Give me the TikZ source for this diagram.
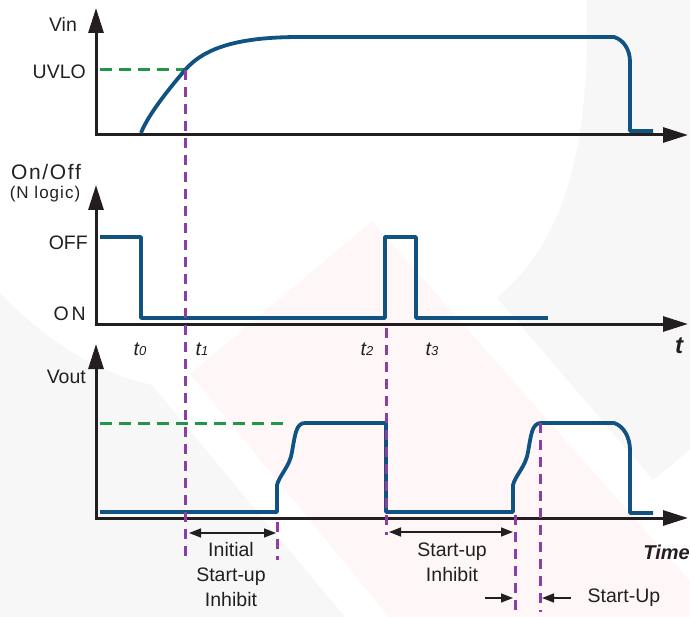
\documentclass[tikz,border=0pt]{standalone}
\usepackage{fontspec}
\setmainfont{Liberation Sans}
\usetikzlibrary{arrows.meta, positioning}

\definecolor{sigblue}{RGB}{16,82,130}
\definecolor{uvgreen}{RGB}{34,150,72}
\definecolor{mkpurple}{RGB}{142,62,160}
\definecolor{inkgray}{RGB}{35,31,32}
\newcommand{\tidx}[1]{\textit{t}{\fontsize{13}{13}\selectfont\textit{#1}}}

\begin{document}
\begin{tikzpicture}[x=1pt, y=-1pt,
  axis/.style={line width=3pt, draw=inkgray, -{Triangle[length=25pt, width=15pt]}},
  signal/.style={line width=3.8pt, draw=sigblue, line join=round},
  marker/.style={line width=3pt, draw=mkpurple, dash pattern=on 10pt off 7pt},
  level/.style={line width=3pt, draw=uvgreen, dash pattern=on 12pt off 7pt},
  dim/.style={line width=1.5pt, draw=inkgray, {Triangle[length=12pt, width=9pt]}-{Triangle[length=12pt, width=9pt]}},
  onedim/.style={line width=1.5pt, draw=inkgray, -{Triangle[length=12pt, width=9pt]}},
  lbl/.style={font=\fontsize{19.5}{25}\selectfont, text=inkgray, inner sep=0pt},
  spaced/.style={lbl, font=\fontsize{21}{25}\selectfont\addfontfeature{LetterSpace=8}},
  small/.style={lbl, font=\fontsize{17}{20}\selectfont\addfontfeature{LetterSpace=6}},
  tlbl/.style={lbl, font=\fontsize{19.5}{25}\selectfont\itshape},
  boldit/.style={lbl, font=\fontsize{20}{24}\selectfont\bfseries\itshape}
]
\useasboundingbox (0,0) rectangle (690,617);

% faint background
\fill[red!3] (372,221) -- (190,374) -- (389,617) -- (690,617) -- (690,581) -- cycle;
\fill[gray!6] (587,0) .. controls (590,150) and (565,240) .. (497,298) -- (653,480)
  -- (690,450) -- (690,0) -- cycle;
\fill[gray!6] (0,293) .. controls (45,340) and (95,372) .. (152,385) -- (345,617)
  -- (0,617) -- cycle;

% axes
\coordinate (o1) at (96,135);
\coordinate (o2) at (96,324);
\coordinate (o3) at (96,518);
\draw[axis] (96,136.5) -- (96,8);
\draw[axis] (94.5,135) -- (688,135);
\draw[axis] (96,325.5) -- (96,185);
\draw[axis] (94.5,324) -- (688,324);
\draw[axis] (96,519.5) -- (96,344);
\draw[axis] (94.5,518) -- (688,518);

% levels
\coordinate (uv) at (185,70);
\coordinate (vset) at (540,423);
\draw[level] (100,70) -- (uv);
\draw[level] (100,423) -- (285,423);

% signals
\draw[signal] (141,133) .. controls (148,115) and (168,90) .. (uv)
  .. controls (205,47) and (240,37) .. (300,37) -- (614,37)
  .. controls (624,40) and (630,50) .. (630,62) -- (630,131) -- (653,131);
\draw[signal] (100,237) -- (141,237) -- (141,318) -- (385,318) -- (385,237)
  -- (416,237) -- (416,318) -- (548,318);
\draw[signal] (100,512) -- (277,512) -- (277,485)
  .. controls (279,476) and (290,466) .. (292,452)
  .. controls (295,435) and (296,423) .. (305,423) -- (386,423) -- (386,512)
  -- (513,512) -- (513,485)
  .. controls (515,476) and (526,466) .. (528,452)
  .. controls (531,435) and (532,423) .. (541,423) -- (614,423)
  .. controls (624,426) and (630,438) .. (630,450) -- (630,513) -- (653,513);

% markers
\draw[marker] (uv) -- (185,563);
\draw[marker] (386,328) -- (386,535);
\draw[marker] (277,522) -- (277,560);
\draw[marker] (515,515) -- (515,612);
\draw[marker] (vset) -- (540,612);

% labels
\node[lbl] (vin) at (63,24) {Vin};
\node[lbl, anchor=east] (uvlo) at (86,72) {UVLO};
\node[spaced] (onoff) at (46,172) {On/Off};
\node[small] (nlogic) at (45,194) {(N logic)};
\node[lbl, anchor=east] (off) at (88,243) {OFF};
\node[lbl, anchor=east] (on) at (86,314) {O\hspace{3pt}N};
\node[tlbl] (t0) at (140,349) {\tidx{0}};
\node[tlbl] (t1) at (202,349) {\tidx{1}};
\node[tlbl] (t2) at (367,349) {\tidx{2}};
\node[tlbl] (t3) at (432,349) {\tidx{3}};
\node[boldit, font=\fontsize{24}{26}\selectfont\bfseries\itshape] (taxis) at (679,346) {t};
\node[lbl, anchor=east] (vout) at (86,377) {Vout};
\node[boldit, anchor=east] (time) at (690,552) {Time};
\node[lbl, align=center] (inhibit1) at (231,575) {Initial\\Start-up\\Inhibit};
\node[lbl, align=center] (inhibit2) at (452,562) {Start-up\\Inhibit};
\node[lbl] (startup) at (624,598) {Start-Up};

% intervals
\coordinate (i1a) at (189,533);
\coordinate (i1b) at (276,533);
\coordinate (i2a) at (389,532);
\coordinate (i2b) at (513,532);
\coordinate (s1a) at (485,598);
\coordinate (s1b) at (513,598);
\coordinate (s2a) at (571,598);
\coordinate (s2b) at (542,598);
\draw[dim] (i1a) -- (i1b);
\draw[dim] (i2a) -- (i2b);
\draw[onedim] (s1a) -- (s1b);
\draw[onedim] (s2a) -- (s2b);
\end{tikzpicture}
\end{document}
